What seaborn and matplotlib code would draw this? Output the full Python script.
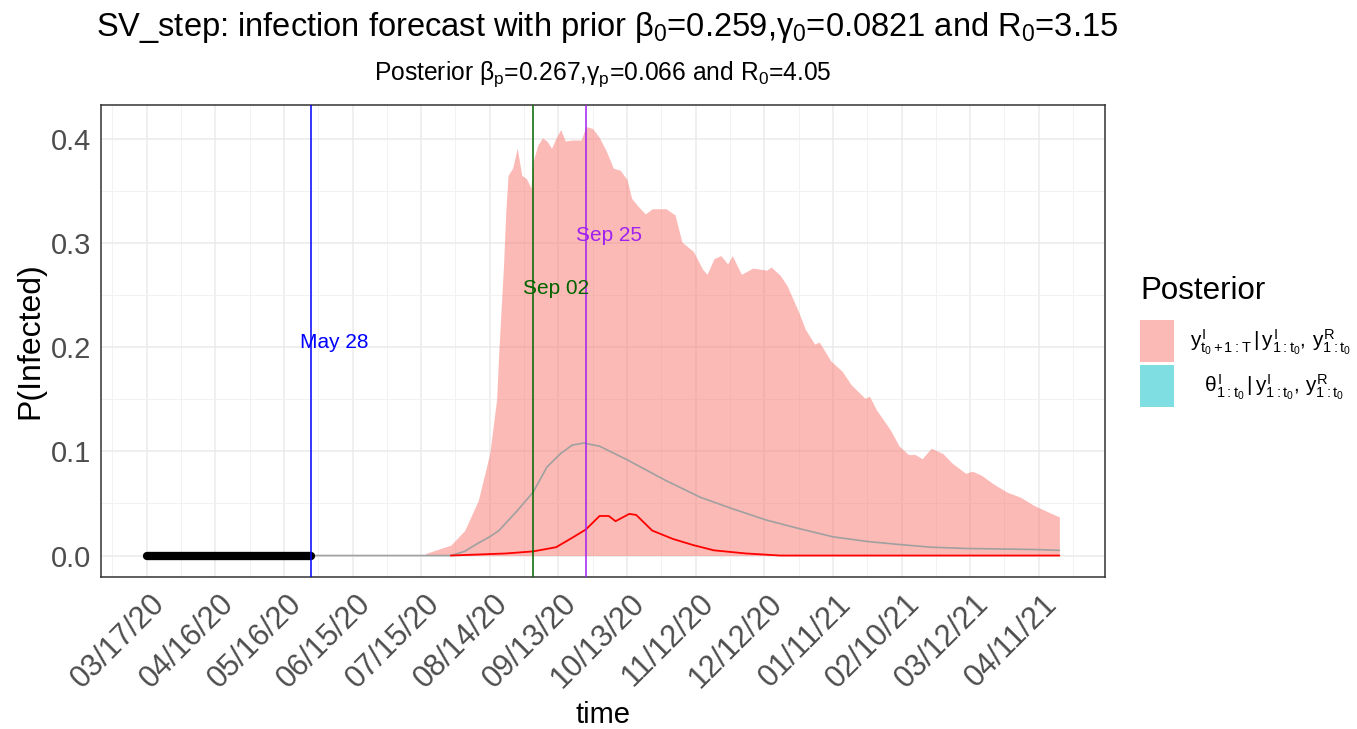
import numpy as np
import pandas as pd
import matplotlib
matplotlib.use("Agg")
import matplotlib.pyplot as plt
import matplotlib.dates as mdates
from matplotlib.patches import Patch
import matplotlib.transforms as mtransforms
import seaborn as sns

# ---------------- data ----------------
start_date = "2020-03-17"
end_date = "2021-04-20"

obs_dates = ["2020-03-17", "2020-05-28"]
obs_vals = [0.0, 0.0]

ribbon_dates = ["2020-07-17", "2020-07-28", "2020-08-03", "2020-08-09", "2020-08-14",
                "2020-08-17", "2020-08-18", "2020-08-20", "2020-08-21", "2020-08-22",
                "2020-08-24", "2020-08-26", "2020-08-28", "2020-08-30", "2020-09-01",
                "2020-09-02", "2020-09-04", "2020-09-06", "2020-09-08", "2020-09-10",
                "2020-09-12", "2020-09-14", "2020-09-16", "2020-09-19", "2020-09-23",
                "2020-09-25", "2020-09-28", "2020-10-01", "2020-10-04", "2020-10-07",
                "2020-10-10", "2020-10-13", "2020-10-15", "2020-10-18", "2020-10-21",
                "2020-10-24", "2020-10-30", "2020-11-03", "2020-11-06", "2020-11-11",
                "2020-11-15", "2020-11-17", "2020-11-20", "2020-11-23", "2020-11-26",
                "2020-11-28", "2020-12-02", "2020-12-07", "2020-12-13", "2020-12-15",
                "2020-12-19", "2020-12-22", "2020-12-24", "2020-12-27", "2020-12-30",
                "2021-01-03", "2021-01-05", "2021-01-07", "2021-01-10", "2021-01-15",
                "2021-01-19", "2021-01-25", "2021-01-27", "2021-01-30", "2021-02-05",
                "2021-02-09", "2021-02-13", "2021-02-16", "2021-02-19", "2021-02-23",
                "2021-02-28", "2021-03-04", "2021-03-10", "2021-03-13", "2021-03-17",
                "2021-03-22", "2021-03-28", "2021-04-03", "2021-04-09", "2021-04-15",
                "2021-04-20"]
ribbon_upper = [0.002, 0.010, 0.024, 0.053, 0.098,
                0.150, 0.198, 0.278, 0.330, 0.365,
                0.372, 0.391, 0.365, 0.362, 0.353,
                0.379, 0.394, 0.401, 0.398, 0.391,
                0.401, 0.409, 0.398, 0.399, 0.399,
                0.412, 0.410, 0.401, 0.388, 0.372,
                0.370, 0.361, 0.343, 0.335, 0.328,
                0.333, 0.333, 0.327, 0.301, 0.292,
                0.275, 0.270, 0.285, 0.288, 0.280,
                0.288, 0.270, 0.276, 0.274, 0.277,
                0.269, 0.259, 0.249, 0.234, 0.217,
                0.203, 0.205, 0.198, 0.187, 0.177,
                0.164, 0.151, 0.153, 0.140, 0.121,
                0.105, 0.097, 0.097, 0.093, 0.103,
                0.098, 0.089, 0.079, 0.081, 0.077,
                0.069, 0.061, 0.056, 0.048, 0.042,
                0.037]

mean_dates = ["2020-03-17", "2020-07-28", "2020-08-03", "2020-08-09", "2020-08-14",
              "2020-08-18", "2020-08-26", "2020-09-02", "2020-09-08", "2020-09-14",
              "2020-09-19", "2020-09-24", "2020-10-01", "2020-10-13", "2020-10-30",
              "2020-11-14", "2020-11-28", "2020-12-13", "2020-12-27", "2021-01-11",
              "2021-01-26", "2021-02-09", "2021-02-23", "2021-03-10", "2021-04-09",
              "2021-04-20"]
mean_vals = [0.0, 0.0, 0.004, 0.012, 0.018,
             0.024, 0.043, 0.061, 0.085, 0.098,
             0.106, 0.108, 0.105, 0.092, 0.072,
             0.056, 0.045, 0.034, 0.026, 0.018,
             0.0135, 0.0106, 0.008, 0.0068, 0.0058,
             0.005]

median_dates = ["2020-07-28", "2020-08-21", "2020-09-02", "2020-09-12", "2020-09-19",
                "2020-09-25", "2020-10-01", "2020-10-05", "2020-10-08", "2020-10-14",
                "2020-10-17", "2020-10-24", "2020-11-02", "2020-11-11", "2020-11-20",
                "2020-12-04", "2020-12-19", "2021-04-20"]
median_vals = [0.0, 0.002, 0.004, 0.008, 0.017,
               0.025, 0.038, 0.038, 0.033, 0.040,
               0.039, 0.024, 0.016, 0.010, 0.005,
               0.002, 0.0, 0.0]

vline_dates = ["2020-05-28", "2020-09-02", "2020-09-25"]
vline_labels = ["May 28", "Sep 02", "Sep 25"]
vline_colors = ["#0000FF", "#006400", "#A020F0"]
vline_label_y = [0.205, 0.256, 0.307]

tick_labels = ["03/17/20", "04/16/20", "05/16/20", "06/15/20", "07/15/20", "08/14/20",
               "09/13/20", "10/13/20", "11/12/20", "12/12/20", "01/11/21", "02/10/21",
               "03/12/21", "04/11/21"]
y_ticks = [0.0, 0.1, 0.2, 0.3, 0.4]

legend_labels = [r"$y^{I}_{t_0+1:T}\,|\,y^{I}_{1:t_0},\,y^{R}_{1:t_0}$",
                 r"$\;\;\;\theta^{I}_{1:t_0}\,|\,y^{I}_{1:t_0},\,y^{R}_{1:t_0}$"]
legend_colors = ["#F8766D", "#00BFC4"]

# ---------------- style ----------------
sns.set_theme(style="white")
plt.rcParams["font.family"] = ["Liberation Sans", "DejaVu Sans"]
plt.rcParams["text.color"] = "black"
plt.rcParams["mathtext.fontset"] = "custom"
plt.rcParams["mathtext.rm"] = "Liberation Sans"
plt.rcParams["mathtext.it"] = "Liberation Sans"
plt.rcParams["mathtext.bf"] = "Liberation Sans:bold"

W, H = 1357, 729
fig = plt.figure(figsize=(W / 100, H / 100), dpi=100)
ax = fig.add_axes([101 / W, 1 - 577 / H, (1105 - 101) / W, (577 - 105) / H])

to_dt = lambda s: pd.to_datetime(pd.Series(s))

rib = pd.DataFrame({"date": to_dt(ribbon_dates), "upper": ribbon_upper})
mean_df = pd.DataFrame({"date": to_dt(mean_dates), "value": mean_vals})
med_df = pd.DataFrame({"date": to_dt(median_dates), "value": median_vals})
obs_df = pd.DataFrame({"date": to_dt(obs_dates), "value": obs_vals})

ax.fill_between(rib["date"], 0, rib["upper"], color=legend_colors[0], alpha=0.5,
                linewidth=0, zorder=2)
sns.lineplot(data=mean_df, x="date", y="value", color="#A0A0A0", linewidth=1.2,
             ax=ax, zorder=3)
sns.lineplot(data=med_df, x="date", y="value", color="#FF0000", linewidth=1.3,
             ax=ax, zorder=4)
sns.lineplot(data=obs_df, x="date", y="value", color="black", linewidth=6,
             solid_capstyle="round", ax=ax, zorder=5)

for d, lab, c, yy in zip(vline_dates, vline_labels, vline_colors, vline_label_y):
    dt = pd.Timestamp(d)
    ax.axvline(dt, color=c, linewidth=1.1, zorder=6)
    ax.text(dt + pd.Timedelta(days=10), yy, lab, color=c, fontsize=15,
            ha="center", va="center", zorder=7)

# axes limits (ggplot 5% expansion)
x0, x1 = pd.Timestamp(start_date), pd.Timestamp(end_date)
span = x1 - x0
ax.set_xlim(x0 - span * 0.05, x1 + span * 0.05)
ymax = max(ribbon_upper)
ax.set_ylim(-ymax * 0.05, ymax * 1.05)

tick_dts = pd.to_datetime(tick_labels, format="%m/%d/%y")
ax.set_xticks(tick_dts)
ax.set_xticklabels(tick_labels)
minor_dts = [t - pd.Timedelta(days=15) for t in tick_dts] + [tick_dts[-1] + pd.Timedelta(days=15)]
ax.set_xticks(minor_dts, minor=True)
ax.set_yticks(y_ticks)
ax.set_yticklabels([f"{v:.1f}" for v in y_ticks])
ax.set_yticks([0.05, 0.15, 0.25, 0.35], minor=True)

ax.grid(True, which="major", color="#EBEBEB", linewidth=1.1, zorder=0)
ax.grid(True, which="minor", color="#F2F2F2", linewidth=0.7, zorder=0)
ax.set_axisbelow(True)
for s in ax.spines.values():
    s.set_color("#333333")
    s.set_linewidth(1.1)

ax.tick_params(axis="both", which="major", length=4, width=1.0, color="#333333",
               labelcolor="#4D4D4D", labelsize=21, pad=3)
ax.tick_params(axis="x", which="major", labelsize=22)
ax.tick_params(axis="both", which="minor", length=0)
plt.setp(ax.get_xticklabels(), rotation=45, ha="right", va="top", rotation_mode="anchor")
shift = mtransforms.ScaledTranslation(3 / 100, -2 / 100, fig.dpi_scale_trans)
for lbl in ax.get_xticklabels():
    lbl.set_transform(lbl.get_transform() + shift)
ax.set_xlabel("")
ax.set_ylabel("")

fig.text(603 / W, 1 - 723 / H, "time", fontsize=21, ha="center", va="baseline", color="black")
fig.text(30 / W, 1 - 341 / H, "P(Infected)", fontsize=23, ha="center", va="center",
         rotation=90, color="black")

fig.text(607 / W, 1 - 36 / H,
         r"SV_step: infection forecast with prior $\beta_0$=0.259,$\gamma_0$=0.0821 and R$_0$=3.15",
         fontsize=23.5, ha="center", va="baseline", color="black")
fig.text(603 / W, 1 - 80 / H,
         r"Posterior $\beta_p$=0.267,$\gamma_p$=0.066 and R$_0$=4.05",
         fontsize=17.7, ha="center", va="baseline", color="black")

handles = [Patch(facecolor=c, alpha=0.5, edgecolor="none") for c in legend_colors]
leg = fig.legend(handles, legend_labels, title="Posterior", loc="upper left",
                 bbox_to_anchor=(1132 / W, 1 - 268 / H), frameon=False,
                 fontsize=15, title_fontsize=22.5, handlelength=1.6, handleheight=2.7,
                 labelspacing=0.15, handletextpad=0.8, borderaxespad=0, alignment="left")
leg.get_title().set_color("black")
for t in leg.get_texts():
    t.set_color("black")
leg._legend_box.sep = 10

fig.savefig("out.png", dpi=100)
